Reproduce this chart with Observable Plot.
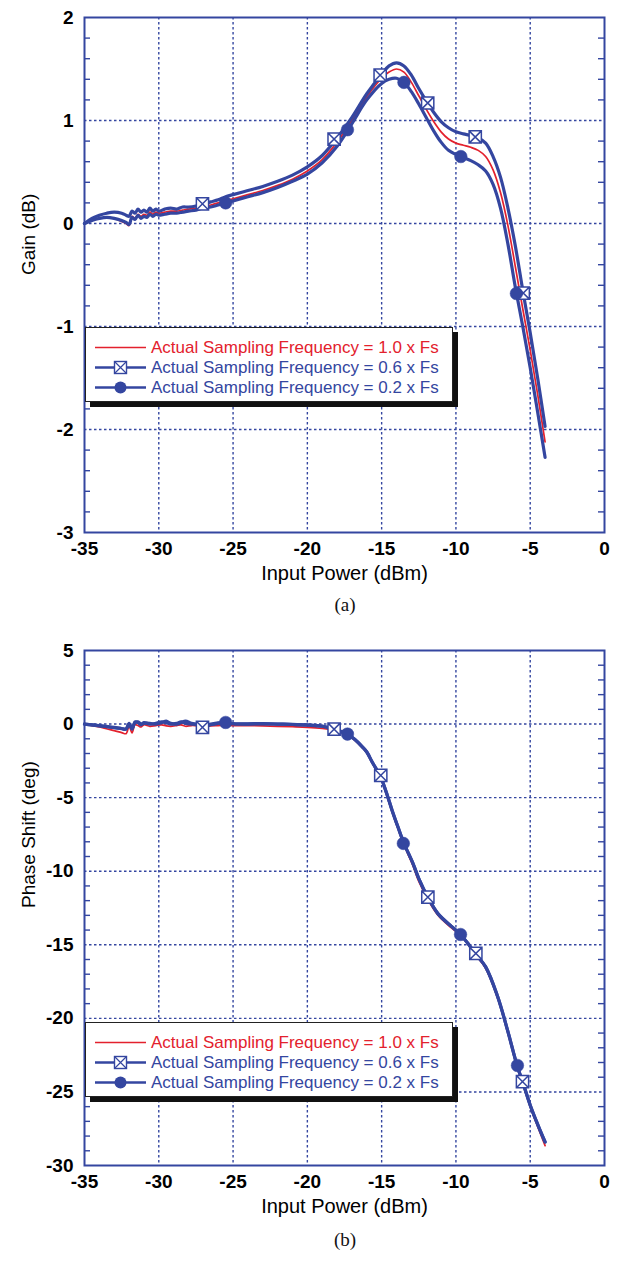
<!DOCTYPE html>
<html>
<head>
<meta charset="utf-8">
<script src="https://cdn.jsdelivr.net/npm/d3@7"></script>
<script src="https://cdn.jsdelivr.net/npm/@observablehq/plot@0.6"></script>
<style>
  html, body { margin: 0; padding: 0; background: #fff; }
  #page { position: relative; width: 621px; height: 1262px; overflow: hidden; background: #fff; }
  .abs { position: absolute; }
  .cap { position: absolute; left: 0; width: 690px; text-align: center; font-family: "Liberation Serif", "Times New Roman", serif; font-size: 19px; color: #111; }
  .legend { position: absolute; background: #fff; border: 1.5px solid #222; box-shadow: 5px 5px 0 #111; }
</style>
</head>
<body>
<div id="page">
  <div id="chartA" class="abs" style="left:0;top:0"></div>
  <div class="cap" id="capA" style="top:594px">(a)</div>
  <div id="chartB" class="abs" style="left:0;top:620px"></div>
  <div class="cap" id="capB" style="top:1229px">(b)</div>
</div>
<script>
// ---------------- data ----------------
const xTicks = [-35, -30, -25, -20, -15, -10, -5, 0];
const seriesNames = ["Actual Sampling Frequency = 1.0 x Fs", "Actual Sampling Frequency = 0.6 x Fs", "Actual Sampling Frequency = 0.2 x Fs"];

// (a) Gain
const gainYTicks = [-3, -2, -1, 0, 1, 2];
const gainYMinor = [-2.8, -2.6, -2.4, -2.2, -1.8, -1.6, -1.4, -1.2, -0.8, -0.6, -0.4, -0.2, 0.2, 0.4, 0.6, 0.8, 1.2, 1.4, 1.6, 1.8];
const gainX = [-35, -34.5, -34, -33.5, -33, -32.5, -32.2, -32, -31.8, -31.6, -31.4, -31.2, -31, -30.8, -30.6, -30.4, -30.2, -30, -29.6, -29.2, -28.8, -28.4, -28, -27.5, -27, -26.5, -26, -25.5, -25, -24, -23, -22, -21, -20, -19, -18, -17, -16, -15, -14.5, -14, -13.5, -13, -12.5, -12, -11.5, -11, -10.5, -10, -9.5, -9, -8.5, -8, -7.5, -7, -6.5, -6, -5.5, -5, -4.5, -4];
const gain10 = [0.00, 0.03, 0.05, 0.06, 0.05, 0.02, 0.00, -0.02, 0.07, 0.05, 0.09, 0.07, 0.09, 0.08, 0.11, 0.09, 0.11, 0.10, 0.11, 0.12, 0.12, 0.13, 0.14, 0.15, 0.16, 0.18, 0.20, 0.22, 0.24, 0.28, 0.32, 0.37, 0.43, 0.51, 0.62, 0.79, 1.00, 1.23, 1.41, 1.47, 1.50, 1.47, 1.37, 1.24, 1.11, 0.99, 0.89, 0.82, 0.78, 0.76, 0.74, 0.71, 0.65, 0.52, 0.30, -0.02, -0.42, -0.83, -1.23, -1.66, -2.12];
const gain06 = [0.00, 0.05, 0.08, 0.10, 0.11, 0.10, 0.08, 0.07, 0.12, 0.10, 0.14, 0.11, 0.13, 0.11, 0.15, 0.12, 0.14, 0.12, 0.14, 0.15, 0.14, 0.16, 0.16, 0.17, 0.19, 0.21, 0.23, 0.26, 0.28, 0.32, 0.36, 0.41, 0.47, 0.55, 0.66, 0.83, 1.03, 1.26, 1.45, 1.53, 1.56, 1.53, 1.44, 1.31, 1.19, 1.08, 0.99, 0.93, 0.89, 0.87, 0.855, 0.83, 0.78, 0.65, 0.45, 0.15, -0.22, -0.65, -1.06, -1.50, -1.97];
const gain02 = [0.00, 0.03, 0.05, 0.06, 0.05, 0.03, 0.01, -0.01, 0.06, 0.04, 0.08, 0.05, 0.07, 0.06, 0.09, 0.07, 0.09, 0.08, 0.09, 0.10, 0.10, 0.11, 0.12, 0.13, 0.15, 0.16, 0.18, 0.20, 0.22, 0.26, 0.30, 0.35, 0.41, 0.48, 0.59, 0.75, 0.97, 1.20, 1.36, 1.40, 1.41, 1.37, 1.28, 1.16, 1.03, 0.90, 0.79, 0.71, 0.67, 0.64, 0.61, 0.57, 0.51, 0.38, 0.15, -0.20, -0.62, -1.00, -1.40, -1.83, -2.27];
const gainBoxX = [-27.06, -18.2, -15.1, -11.9, -8.7, -5.47];
const gainBoxY = [0.19, 0.82, 1.44, 1.17, 0.84, -0.675];
const gainDotX = [-25.5, -17.3, -13.5, -9.67, -5.93];
const gainDotY = [0.20, 0.91, 1.37, 0.65, -0.68];

// (b) Phase shift
const phaseYTicks = [-30, -25, -20, -15, -10, -5, 0, 5];
const phaseYMinor = [-29, -28, -27, -26, -24, -23, -22, -21, -19, -18, -17, -16, -14, -13, -12, -11, -9, -8, -7, -6, -4, -3, -2, -1, 1, 2, 3, 4];
const phaseX = [-35, -34, -33, -32.5, -32.2, -32, -31.8, -31.6, -31.4, -31.2, -31, -30.6, -30.2, -29.8, -29.5, -29.2, -28.8, -28.5, -28.2, -27.8, -27.4, -27, -26.5, -26, -25.5, -25, -24, -23, -22, -21, -20, -19, -18.2, -17.3, -16.8, -16.3, -16, -15.6, -15.1, -14.7, -14.3, -13.9, -13.5, -12.9, -12.5, -11.9, -11.2, -10.3, -9.7, -9.2, -8.7, -8, -7.2, -6.5, -5.9, -5.5, -5, -4.5, -4];
const phase10 = [0, -0.2, -0.45, -0.58, -0.65, -0.15, -0.6, -0.05, -0.1, -0.2, -0.05, -0.15, -0.1, -0.05, -0.12, -0.15, -0.1, -0.05, -0.15, -0.1, -0.12, -0.2, -0.12, -0.1, -0.08, -0.1, -0.1, -0.12, -0.15, -0.18, -0.22, -0.3, -0.42, -0.75, -1.1, -1.6, -1.95, -2.7, -3.55, -4.7, -5.95, -7.1, -8.2, -9.6, -10.7, -11.9, -13.0, -13.85, -14.35, -14.95, -15.65, -16.6, -18.6, -21.0, -23.25, -24.45, -26.0, -27.35, -28.65];
const phase06 = [0, -0.12, -0.25, -0.32, -0.35, 0.05, -0.35, 0.15, 0.1, -0.05, 0.1, 0.0, 0.05, 0.15, 0.1, 0.0, 0.05, 0.15, 0.05, 0.0, -0.05, -0.2, -0.05, 0.05, 0.1, 0.02, 0.0, 0.02, 0.0, -0.03, -0.07, -0.15, -0.35, -0.7, -1.05, -1.55, -1.9, -2.65, -3.5, -4.6, -5.85, -7.0, -8.1, -9.45, -10.5, -11.75, -12.9, -13.75, -14.3, -14.9, -15.6, -16.5, -18.5, -20.9, -23.15, -24.35, -25.9, -27.2, -28.4];
const phase02 = [0, -0.1, -0.22, -0.3, -0.32, 0.0, -0.3, 0.1, 0.15, 0.0, 0.05, 0.05, 0.0, 0.1, 0.2, 0.05, 0.0, 0.1, 0.2, 0.05, 0.0, -0.1, 0.0, 0.08, 0.12, 0.03, 0.02, 0.03, 0.0, -0.02, -0.06, -0.14, -0.34, -0.68, -1.05, -1.55, -1.9, -2.65, -3.5, -4.6, -5.85, -7.0, -8.1, -9.45, -10.5, -11.75, -12.9, -13.75, -14.3, -14.9, -15.6, -16.5, -18.5, -20.9, -23.15, -24.35, -25.9, -27.2, -28.4];
const phaseBoxX = [-27.06, -18.2, -15.06, -11.89, -8.66, -5.52];
const phaseBoxY = [-0.23, -0.35, -3.49, -11.76, -15.59, -24.3];
const phaseDotX = [-25.5, -17.3, -13.54, -9.69, -5.86];
const phaseDotY = [0.11, -0.68, -8.11, -14.3, -23.2];

// ---------------- styling ----------------
const BLUE = "#3446a0";
const RED = "#e3212d";
const FONT = "'Liberation Sans', Arial, Helvetica, sans-serif";

const boxX = {
  draw(ctx, size) {
    const h = Math.sqrt(size) / 2;
    ctx.moveTo(-h, -h); ctx.lineTo(h, -h); ctx.lineTo(h, h); ctx.lineTo(-h, h); ctx.closePath();
    ctx.moveTo(-h, -h); ctx.lineTo(h, h);
    ctx.moveTo(h, -h); ctx.lineTo(-h, h);
  }
};

const zip = (xs, ys) => xs.map((x, i) => ({x, y: ys[i]}));

function makeChart({height, marginTop, marginBottom, yDomain, yTicks, yMinor, xs, s10, s06, s02, bx, by, dx, dy, yLabel}) {
  const W = 621, ML = 84, MR = 17;
  const plotW = W - ML - MR;
  const gridOpts = {stroke: BLUE, strokeOpacity: 1, strokeWidth: 1.4, strokeDasharray: "2.5,2.5"};
  return Plot.plot({
    width: W, height, marginLeft: ML, marginRight: MR, marginTop, marginBottom,
    x: {domain: [-35, 0]},
    y: {domain: yDomain},
    style: {fontFamily: FONT, background: "white", color: "black", overflow: "visible"},
    marks: [
      Plot.gridX(xTicks.slice(1, -1), gridOpts),
      Plot.gridY(yTicks.slice(1, -1), gridOpts),
      Plot.tickY(yMinor, {y: d => d, stroke: BLUE, strokeWidth: 1.4, insetRight: plotW - 6}),
      Plot.tickY(yMinor, {y: d => d, stroke: BLUE, strokeWidth: 1.4, insetLeft: plotW - 6}),
      Plot.line(zip(xs, s10), {x: "x", y: "y", stroke: RED, strokeWidth: 1.7, curve: "catmull-rom"}),
      Plot.line(zip(xs, s06), {x: "x", y: "y", stroke: BLUE, strokeWidth: 3.2, curve: "catmull-rom"}),
      Plot.line(zip(xs, s02), {x: "x", y: "y", stroke: BLUE, strokeWidth: 3.2, curve: "catmull-rom"}),
      Plot.dot(zip(bx, by), {x: "x", y: "y", symbol: boxX, r: 6.9, fill: "white", stroke: BLUE, strokeWidth: 1.5}),
      Plot.dot(zip(dx, dy), {x: "x", y: "y", r: 6.3, fill: BLUE, stroke: BLUE, strokeWidth: 0.5}),
      Plot.frame({stroke: BLUE, strokeWidth: 2}),
      Plot.axisX(xTicks, {tickSize: 0, tickPadding: 9, tickFormat: d => String(d), fontSize: 19, fontWeight: "bold", fill: "black", label: null}),
      Plot.axisY(yTicks, {tickSize: 0, tickPadding: 11, tickFormat: d => String(d), fontSize: 19, fontWeight: "bold", fill: "black", label: null}),
      Plot.text(["Input Power (dBm)"], {text: d => d, frameAnchor: "bottom", dy: 47, fontSize: 20, fill: "black"}),
      Plot.text([yLabel], {text: d => d, frameAnchor: "left", dx: -56, rotate: -90, fontSize: 19, fill: "black"})
    ]
  });
}

document.getElementById("chartA").append(makeChart({
  height: 600, marginTop: 17, marginBottom: 68,
  yDomain: [-3, 2], yTicks: gainYTicks, yMinor: gainYMinor,
  xs: gainX, s10: gain10, s06: gain06, s02: gain02,
  bx: gainBoxX, by: gainBoxY, dx: gainDotX, dy: gainDotY, yLabel: "Gain (dB)"
}));
document.getElementById("chartB").append(makeChart({
  height: 600, marginTop: 30, marginBottom: 55,
  yDomain: [-30, 5], yTicks: phaseYTicks, yMinor: phaseYMinor,
  xs: phaseX, s10: phase10, s06: phase06, s02: phase02,
  bx: phaseBoxX, by: phaseBoxY, dx: phaseDotX, dy: phaseDotY, yLabel: "Phase Shift (deg)"
}));

// ---------------- legends ----------------
function legend(top) {
  const div = document.createElement("div");
  div.className = "legend";
  div.style.left = "85px";
  div.style.top = top + "px";
  div.style.width = "366px";
  div.style.height = "73px";
  const rows = [19.5, 39.5, 59.5];
  const colors = [RED, BLUE, BLUE];
  let s = `<svg width="366" height="73" style="display:block">`;
  rows.forEach((ry, i) => {
    s += `<line x1="9" x2="60" y1="${ry}" y2="${ry}" stroke="${colors[i]}" stroke-width="${i ? 2.6 : 1.6}"/>`;
    if (i === 1) {
      s += `<rect x="28.5" y="${ry - 6}" width="12" height="12" fill="white" stroke="${BLUE}" stroke-width="1.4"/>`;
      s += `<path d="M28.5,${ry - 6}L40.5,${ry + 6}M40.5,${ry - 6}L28.5,${ry + 6}" stroke="${BLUE}" stroke-width="1.2"/>`;
    }
    if (i === 2) s += `<circle cx="34.5" cy="${ry}" r="6" fill="${BLUE}"/>`;
    s += `<text x="65" y="${ry}" dy="0.35em" font-family="${FONT.replace(/'/g, "")}" font-size="17" fill="${colors[i]}">${seriesNames[i]}</text>`;
  });
  s += `</svg>`;
  div.innerHTML = s;
  document.getElementById("page").append(div);
}
legend(327);
legend(1022);
</script>
</body>
</html>
